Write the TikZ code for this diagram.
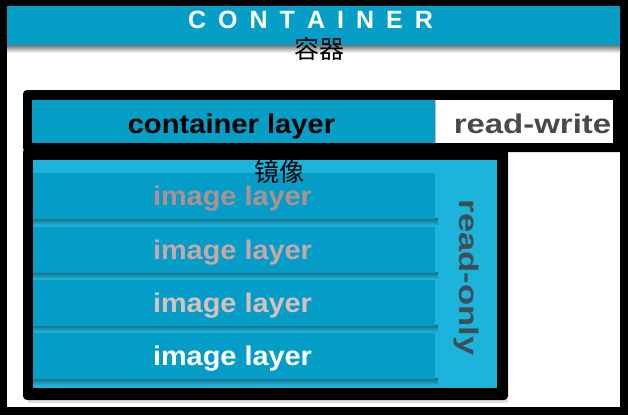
\documentclass[tikz,border=0pt]{standalone}
\usepackage{fontspec}
\usepackage{graphicx}
\setmainfont{Liberation Sans}
\newfontfamily\cjk{Noto Sans CJK SC}
\definecolor{barblue}{HTML}{049EC6}
\definecolor{layerblue}{HTML}{049DC7}
\definecolor{lightblue}{HTML}{1DB4DC}
\definecolor{rwgray}{HTML}{474A4D}
\definecolor{rogray}{HTML}{3E4E56}
\definecolor{txtA}{HTML}{B09090}
\definecolor{txtB}{HTML}{C6A8A8}
\definecolor{txtC}{HTML}{D8C0C0}
\definecolor{shadowblue}{HTML}{1A6A80}
\newcommand\hstretch[2]{\scalebox{#1}[1]{#2}}
\tikzset{
  lbl/.style={inner sep=0pt, anchor=base, font=\fontsize{27}{30}\selectfont\bfseries},
  cjklbl/.style={inner sep=0pt, anchor=base, text=black, font=\cjk\fontsize{25}{28}\selectfont},
  layerbox/.style={fill=layerblue},
  layershadow/.style={top color=shadowblue, bottom color=lightblue},
  frame/.style={fill=black, rounded corners=4pt}
}
\begin{document}
\begin{tikzpicture}[x=1pt,y=-1pt]
\useasboundingbox (0,0) rectangle (628,415);
% outer frame
\fill[black] (0,0) rectangle (628,415);
\fill[white] (7,6) rectangle (620,407);
% title bar
\fill[barblue] (7,6) rectangle (620,45);
\shade[top color=black!55, bottom color=white] (7,45) rectangle (620,53);
\node[lbl, text=white, font=\fontsize{25}{30}\selectfont\bfseries] (title) at (310.5,28)
  {C\kern12pt O\kern12pt N\kern12pt T\kern12pt A\kern12pt I\kern12pt N\kern12pt E\kern12pt R};
\node[cjklbl] (titlecn) at (319,58) {容器};
% container layer box
\fill[frame] (23,90) rectangle (640,152);
\fill[barblue] (32,100) rectangle (435,143);
\fill[white] (435,100) rectangle (613,143);
\draw[black!25, line width=0.6pt] (435.3,100) -- (435.3,143);
\node[lbl, text=black] (contlayer) at (231.5,133) {\hstretch{1.08}{container layer}};
\node[lbl, text=rwgray] (rw) at (532.5,133) {\hstretch{1.22}{read-write}};
% image box
\fill[black!12] (28,399) rectangle (508,402.5);
\fill[frame] (23,148) rectangle (508,400);
\fill[lightblue] (33,160) rectangle (497,388);
\foreach \t/\c [count=\i] in {173/txtA,227/txtB,280/txtC,333/white}{
  \shade[layershadow] (33,\t+45) rectangle (438,\t+52);
  \fill[layerbox] (33,\t) rectangle (435,\t+46);
  \node[lbl, text=\c] (layer\i) at (232.5,\t+32) {\hstretch{1.07}{image layer}};
}
\node[cjklbl] (imagecn) at (279,181) {镜像};
\node[lbl, text=rogray, rotate=-90] (ro) at (459,277.5) {\hstretch{1.28}{read-only}};
\end{tikzpicture}
\end{document}
